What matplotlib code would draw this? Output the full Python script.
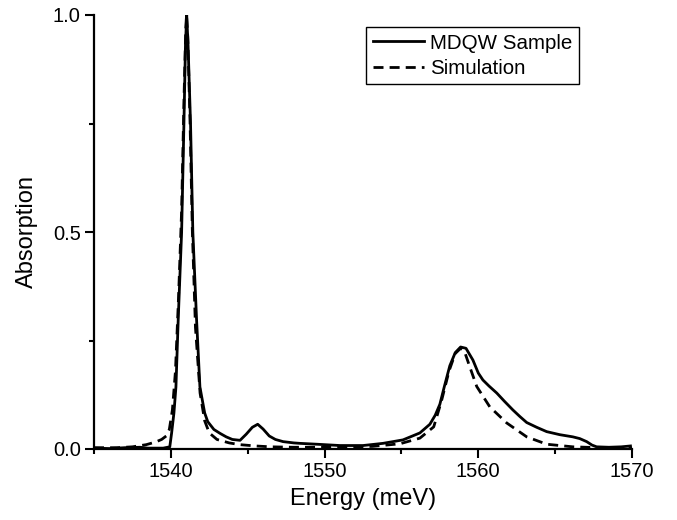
import matplotlib
matplotlib.use("Agg")
import matplotlib.pyplot as plt
from matplotlib.ticker import MultipleLocator

plt.rcParams['font.family'] = ['Liberation Sans', 'DejaVu Sans']

# MDQW sample (measured)
sample_x = [1535.0, 1536.0, 1537.0, 1538.0, 1538.5, 1539.0, 1539.5, 1539.93, 1540.05, 1540.2,
            1540.33, 1540.48, 1540.7, 1540.85, 1540.95, 1541.03, 1541.12, 1541.28, 1541.43, 1541.67,
            1541.89, 1542.2, 1542.4, 1542.8, 1543.2, 1543.6, 1544.0, 1544.5, 1544.9, 1545.3,
            1545.65, 1546.0, 1546.4, 1546.8, 1547.3, 1548.0, 1548.4, 1549.5, 1550.5, 1551.0,
            1552.0, 1552.5, 1553.8, 1555.1, 1556.2, 1556.85, 1557.2, 1557.5, 1557.8, 1558.15,
            1558.5, 1558.85, 1559.2, 1559.65, 1560.0, 1560.3, 1560.7, 1561.2, 1561.7, 1562.25,
            1562.7, 1563.15, 1563.8, 1564.45, 1565.3, 1566.15, 1566.6, 1567.05, 1567.4, 1567.7,
            1568.5, 1569.3, 1569.9]
sample_y = [0.002, 0.001, 0.003, 0.004, 0.002, 0.002, 0.002, 0.005, 0.037, 0.083,
            0.143, 0.30, 0.50, 0.75, 0.93, 1.0, 0.93, 0.75, 0.50, 0.30,
            0.143, 0.083, 0.063, 0.045, 0.036, 0.028, 0.022, 0.020, 0.034, 0.050,
            0.057, 0.046, 0.030, 0.022, 0.017, 0.014, 0.013, 0.011, 0.009, 0.008,
            0.008, 0.008, 0.013, 0.021, 0.037, 0.057, 0.078, 0.103, 0.145, 0.192,
            0.222, 0.235, 0.232, 0.205, 0.175, 0.159, 0.145, 0.129, 0.110, 0.090,
            0.075, 0.061, 0.050, 0.040, 0.033, 0.028, 0.024, 0.017, 0.009, 0.005,
            0.004, 0.005, 0.007]

# Simulation
sim_x = [1535.0, 1536.5, 1537.5, 1538.4, 1539.0, 1539.4, 1539.7, 1539.9, 1540.1, 1540.3,
         1540.5, 1540.7, 1540.85, 1540.97, 1541.02, 1541.1, 1541.25, 1541.4, 1541.6, 1541.9,
         1542.2, 1542.5, 1543.0, 1543.8, 1544.5, 1545.5, 1546.5, 1548.0, 1550.0, 1552.0,
         1553.1, 1554.9, 1556.2, 1557.1, 1557.6, 1558.1, 1558.5, 1558.85, 1559.1, 1559.45,
         1559.9, 1560.75, 1561.85, 1563.15, 1564.45, 1566.15, 1567.9, 1570.0]
sim_y = [0.003, 0.003, 0.005, 0.010, 0.016, 0.022, 0.030, 0.045, 0.09, 0.18,
         0.35, 0.55, 0.80, 0.97, 1.0, 0.95, 0.75, 0.50, 0.28, 0.129,
         0.065, 0.037, 0.022, 0.014, 0.010, 0.007, 0.005, 0.004, 0.004, 0.005,
         0.006, 0.012, 0.025, 0.051, 0.11, 0.18, 0.22, 0.232, 0.225, 0.189,
         0.144, 0.097, 0.060, 0.028, 0.011, 0.005, 0.003, 0.002]

x_ticks = [1540, 1550, 1560, 1570]
y_ticks = [0.0, 0.5, 1.0]
y_tick_labels = ["0.0", "0.5", "1.0"]

fig = plt.figure(figsize=(6.77, 5.2), dpi=100)
ax = fig.add_axes([94/677, 1-449/520, 538/677, 434/520])

ax.plot(sample_x, sample_y, color='black', lw=2.0, label='MDQW Sample')
ax.plot(sim_x, sim_y, color='black', lw=2.0, linestyle=(0, (3.6, 2.2)), label='Simulation')

ax.set_xlim(1535, 1570)
ax.set_ylim(0, 1.0)
ax.set_xticks(x_ticks)
ax.set_yticks(y_ticks)
ax.set_yticklabels(y_tick_labels)
ax.xaxis.set_minor_locator(MultipleLocator(5))
ax.yaxis.set_minor_locator(MultipleLocator(0.25))

for s in ['top', 'right']:
    ax.spines[s].set_visible(False)
for s in ['left', 'bottom']:
    ax.spines[s].set_linewidth(1.6)

ax.tick_params(which='major', direction='out', length=6.5, width=1.5, labelsize=14.5, pad=3)
ax.tick_params(which='minor', direction='out', length=3.5, width=1.5)

ax.set_xlabel('Energy (meV)', fontsize=17, labelpad=5)
ax.set_ylabel('Absorption', fontsize=17, labelpad=11)

leg = ax.legend(loc='upper left', bbox_to_anchor=(366/677, 1-27/520), bbox_transform=fig.transFigure,
                fontsize=14.8, frameon=True, fancybox=False, edgecolor='black', framealpha=1,
                handlelength=2.5, handletextpad=0.3, borderpad=0.32, labelspacing=0.3,
                borderaxespad=0)
leg.get_frame().set_linewidth(1.0)

fig.savefig('out.png', dpi=100)
